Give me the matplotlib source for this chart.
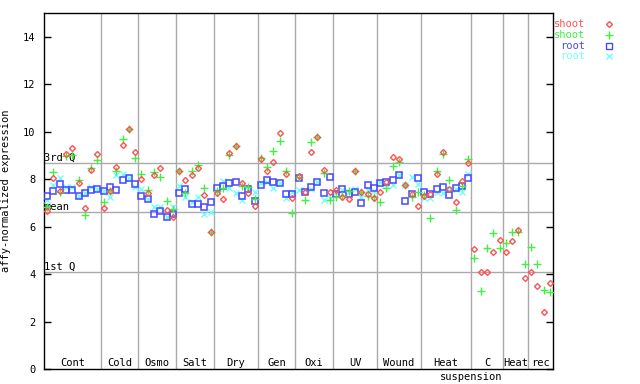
import numpy as np
import matplotlib
matplotlib.use("Agg")
import matplotlib.pyplot as plt

# group names along the x axis and how many samples each group holds
groups = ["Cont", "Cold", "Osmo", "Salt", "Dry", "Gen", "Oxi", "UV", "Wound", "Heat", "C", "Heat", "rec"]
group_sizes = [9, 6, 6, 6, 7, 6, 6, 7, 7, 8, 5, 4, 4]

# quantile lines
q1, mean_val, q3 = 4.08, 6.61, 8.68

nan = np.nan
shoot_a = [6.68, 8.05, 7.50, 9.07, 9.31, 7.83, 6.78, 8.40, 9.06,
           6.78, 7.51, 8.51, 9.45, 10.13, 9.14,
           8.00, 7.41, 8.16, 8.47, 6.71, 6.39,
           8.33, 7.97, 8.19, 8.47, 7.34, 5.77,
           7.44, 7.17, 9.10, 9.41, 7.83, 7.41, 6.88,
           8.85, 8.37, 8.72, 9.94, 8.23, 7.20,
           8.12, 7.48, 9.17, 9.77, 8.40, 7.48,
           7.55, 7.24, 7.16, 8.37, 7.46, 7.40, 7.20,
           7.48, 7.88, 8.96, 8.85, 7.76, 7.37, 6.88,
           7.30, 7.40, 8.21, 9.14, 7.60, 7.06, 7.93, 8.68,
           5.05, 4.08, 4.08, 4.92, 5.44,
           4.92, 5.40, 5.87, 3.83,
           4.08, 3.49, 2.42, 3.62]
shoot_b = [6.82, 8.30, 7.45, 9.00, 9.03, 7.97, 6.50, 8.47, 8.80,
           7.06, 7.51, 8.37, 9.70, 10.13, 8.89,
           8.23, 7.54, 8.30, 8.09, 7.09, 6.75,
           8.33, 7.44, 8.36, 8.61, 7.62, 5.77,
           7.52, 7.62, 9.03, 9.41, 7.72, 7.69, 7.17,
           8.89, 8.51, 9.20, 9.62, 8.33, 6.57,
           8.10, 7.13, 9.59, 9.77, 8.26, 7.13,
           7.24, 7.30, 7.52, 8.37, 7.48, 7.30, 7.27,
           7.03, 7.65, 8.58, 8.75, 7.76, 7.27, 7.46,
           7.35, 6.36, 8.36, 9.06, 7.97, 6.71, 7.70, 8.85,
           4.67, 3.29, 5.09, 5.73, 5.09,
           5.30, 5.77, 5.77, 4.43,
           5.13, 4.43, 3.34, 3.24]
root_a = [7.30, 7.51, 7.80, 7.54, 7.54, 7.30, 7.43, 7.54, 7.58,
          7.51, 7.68, 7.55, 7.97, 8.05, 7.79,
          7.30, 7.16, 6.53, 6.67, 6.40, 6.53,
          7.41, 7.58, 6.95, 6.95, 6.82, 7.03,
          7.62, 7.73, 7.83, 7.87, 7.30, 7.60, 7.09,
          7.76, 7.95, 7.88, 7.83, 7.38, 7.38,
          8.05, 7.48, 7.69, 7.88, 7.41, 8.09,
          7.37, 7.60, 7.38, 7.48, 7.02, 7.76, 7.62,
          7.86, 7.88, 7.97, 8.16, 7.09, 7.37, 8.05,
          7.48, 7.38, 7.58, 7.67, 7.34, 7.65, 7.72, 8.05,
          nan, nan, nan, nan, nan,
          nan, nan, nan, nan,
          nan, nan, nan, nan]
root_b = [7.13, 7.76, 8.05, 7.67, 7.67, 7.30, 7.43, 7.68, 7.58,
          7.51, 7.24, 8.19, 8.21, 8.05, 7.69,
          7.60, 7.16, 6.82, 6.82, 6.40, 6.82,
          7.72, 7.27, 7.06, 7.24, 6.53, 6.61,
          7.52, 7.93, 7.65, 7.41, 7.13, 7.55, 7.48,
          7.86, 7.88, 7.62, 7.83, 7.23, 7.48,
          7.55, 7.55, 7.60, 7.88, 7.13, 7.20,
          7.48, 7.55, 7.48, 7.60, 7.24, 7.55, 7.50,
          7.90, 7.80, 7.76, 8.16, 7.76, 8.10, 7.79,
          7.20, 7.20, 7.48, 7.41, 7.60, 7.60, 7.48, 8.23,
          nan, nan, nan, nan, nan,
          nan, nan, nan, nan,
          nan, nan, nan, nan]

red = "#ff5050"
green = "#44ee44"
blue = "#4848ff"
cyan = "#70ffff"
grid_col = "#aaaaaa"
mono = "DejaVu Sans Mono"
fs = 7.5

n = len(shoot_a)
x = np.arange(n) + 0.5

fig = plt.figure(figsize=(6.4, 3.84), dpi=100)
ax = fig.add_axes([44 / 640, 15 / 384, 509 / 640, 355.7 / 384])
ax.set_xlim(0, n)
ax.set_ylim(0, 15)

# group separators
bounds = np.cumsum(group_sizes)
for b in bounds[:-1]:
    ax.axvline(b, color=grid_col, lw=1, zorder=1)

# quantile lines
for qv, lab in [(q3, "3rd Q"), (mean_val, "mean"), (q1, "1st Q")]:
    ax.axhline(qv, color=grid_col, lw=1, zorder=1)
    ax.text(0.05, qv + 0.03, lab, family=mono, fontsize=fs, va="bottom", ha="left", zorder=2)

ax.plot(x, root_b, ls="none", marker="x", ms=4, mew=1, color=cyan, zorder=3)
ax.plot(x, root_a, ls="none", marker="s", ms=4, mew=1.1, mfc="none", mec=blue, zorder=4)
ax.plot(x, shoot_b, ls="none", marker="+", ms=5.5, mew=1, color=green, zorder=5)
ax.plot(x, shoot_a, ls="none", marker="D", ms=3, mew=1, mfc="none", mec=red, zorder=6)

# group labels inside the bottom of the plot
starts = np.concatenate([[0], bounds[:-1]])
for g, s, b in zip(groups, starts, bounds):
    ax.text((s + b) / 2, 0.25, g, family=mono, fontsize=fs, ha="center", va="center")
ax.text(bounds[9], -0.33, "suspension", family=mono, fontsize=fs,
        ha="center", va="center", clip_on=False)

ax.set_yticks(np.arange(0, 15, 2))
ax.set_yticklabels([str(v) for v in range(0, 15, 2)], family=mono, fontsize=fs)
ax.set_xticks([])
ax.tick_params(axis="y", direction="in", length=5, width=1, right=True, pad=6)
for sp in ax.spines.values():
    sp.set_linewidth(1)
ax.set_ylabel("affy-normalized expression", family=mono, fontsize=fs, labelpad=9)

# legend outside on the right
leg = [("shoot", red, "D", 3), ("shoot", green, "+", 5.5), ("root", blue, "s", 4), ("root", cyan, "x", 4)]
for k, (name, col, mk, ms) in enumerate(leg):
    yy = 1 - (24 + k * 10.8) / 384
    fig.text(585 / 640, yy, name, color=col, family=mono, fontsize=fs, ha="right", va="center")
    fig.lines.append(plt.Line2D([609 / 640], [yy], transform=fig.transFigure, ls="none",
                                marker=mk, ms=ms, mew=1, mfc="none", mec=col, color=col))

fig.savefig("out.png", dpi=100)
